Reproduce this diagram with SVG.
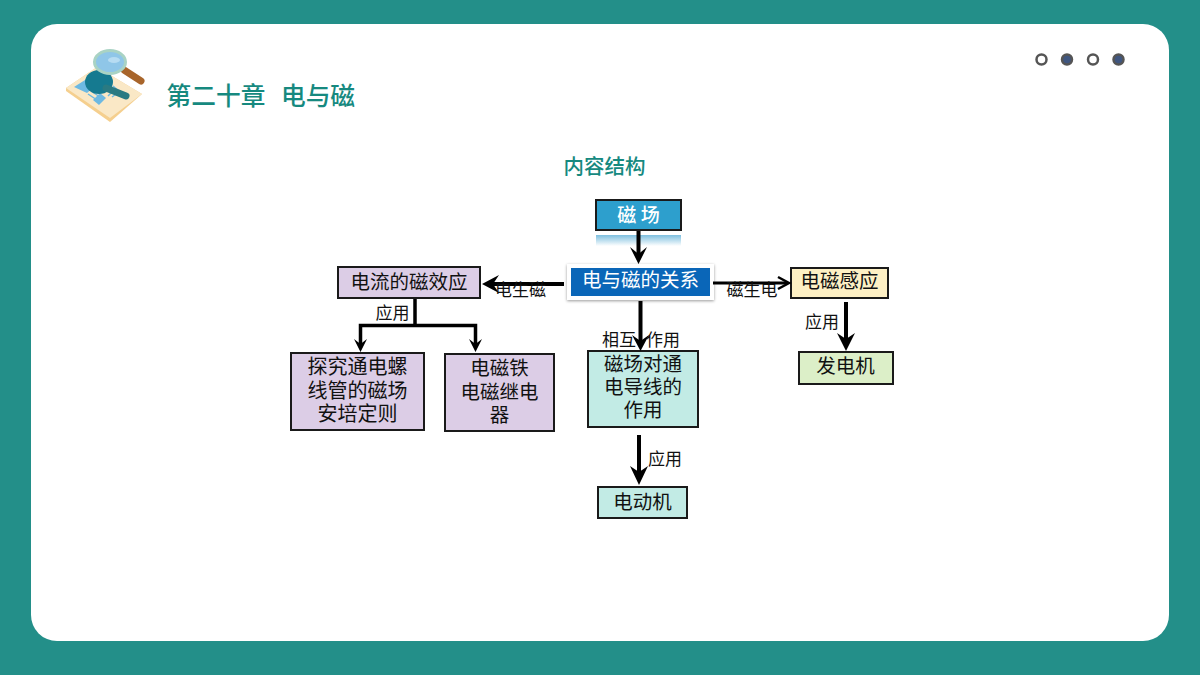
<svg xmlns="http://www.w3.org/2000/svg" width="1200" height="675" viewBox="0 0 1200 675">
<defs>
<style>
text{font-family:"Noto Sans CJK SC","Liberation Sans",sans-serif;text-anchor:middle}
.box{stroke:#1a1a1a;stroke-width:2}
.t{font-size:19.500px;fill:#111}
.w{font-size:20px;fill:#111}
.l{font-size:17px;fill:#111}
.h{font-weight:500;fill:#16897f}
.c{fill:none;stroke:#000;stroke-linecap:butt}
.dot{stroke:#555;stroke-width:2.500}
</style>
<linearGradient id="refl" x1="0" y1="0" x2="0" y2="1"><stop offset="0" stop-color="#7dbfdf"/><stop offset="1" stop-color="#fff"/></linearGradient>
<filter id="sh" x="-10%" y="-20%" width="120%" height="140%"><feDropShadow dx="0" dy="1" stdDeviation="1.500" flood-color="#000" flood-opacity=".4"/></filter>
</defs>
<rect width="1200" height="675" fill="#238f89"/>
<rect x="31" y="24" width="1138" height="617" rx="26" fill="#fff"/>
<g id="icon">
<path d="M66 88L97 67L142 94L110 122L66 91Z" fill="#f5cf8e"/>
<path d="M66 88L97 67L142 94L110 118Z" fill="#fae8c6"/>
<path d="M74 87L85 80L93 88L87 93Z" fill="#6db9e2"/>
<path d="M93 100L100 93L106 98L99 105Z" fill="#6db9e2"/>
<path d="M88 94L97 100M91 91L100 97M108 96L114 90M112 97L119 92M113 86L120 92" stroke="#6db9e2" stroke-width="1.500" fill="none"/>
<ellipse cx="99" cy="82" rx="14" ry="12" fill="#157a90"/>
<path d="M106 88L126 96" stroke="#2a7a82" stroke-width="7" stroke-linecap="round"/>
<path d="M124 70L141 81" stroke="#a8652b" stroke-width="7" stroke-linecap="round"/>
<ellipse cx="110" cy="62" rx="15.500" ry="11.500" fill="#8fc6e8" stroke="#a9d3c4" stroke-width="3"/>
<ellipse cx="114" cy="60" rx="6" ry="3" fill="#b7dcf2"/>
</g>
<g id="title">
<text class="h" x="216" y="105" font-size="24.700">第二十章</text>
<text class="h" x="318" y="105" font-size="24.700">电与磁</text>
</g>
<g id="dots">
<circle class="dot" cx="1041.500" cy="59.500" r="5" fill="#fff"/>
<circle class="dot" cx="1067" cy="59.500" r="5" fill="#3f5680"/>
<circle class="dot" cx="1093" cy="59.500" r="5" fill="#fff"/>
<circle class="dot" cx="1118.500" cy="59.500" r="5" fill="#3f5680"/>
</g>
<text class="h" x="604.500" y="174" font-size="20.500" id="subtitle">内容结构</text>
<g id="n-cichang">
<rect x="596" y="200" width="85" height="30" fill="#2d9fcd" class="box"/>
<rect x="596" y="235" width="85" height="11" fill="url(#refl)"/>
<text x="638.500" y="222" font-size="19" fill="#fff" font-weight="500">磁 场</text>
</g>
<g id="n-guanxi">
<rect x="567" y="264" width="147" height="36" fill="#fff" filter="url(#sh)"/>
<rect x="571" y="268" width="139" height="28" fill="#0a66b8"/>
<text x="640.500" y="287" font-size="19.500" fill="#fff">电与磁的关系</text>
</g>
<g id="n-xiaoying">
<rect x="338" y="267" width="142" height="31" fill="#dccde6" class="box"/>
<text class="t" x="409" y="289">电流的磁效应</text>
</g>
<g id="n-ganying">
<rect x="791" y="268" width="97" height="30" fill="#fdf0c4" class="box"/>
<text class="t" x="839.500" y="288">电磁感应</text>
</g>
<g id="n-luoxian">
<rect x="291" y="353" width="133" height="77" fill="#dccde6" class="box"/>
<text class="w" x="357.500" y="374">探究通电螺</text>
<text class="w" x="357.500" y="398">线管的磁场</text>
<text class="w" x="357.500" y="421">安培定则</text>
</g>
<g id="n-citie">
<rect x="445" y="354" width="109" height="77" fill="#dccde6" class="box"/>
<text class="t" x="499.500" y="375">电磁铁</text>
<text class="t" x="499.500" y="399">电磁继电</text>
<text class="t" x="499.500" y="422">器</text>
</g>
<g id="n-daoxian">
<rect x="588" y="351" width="110" height="76" fill="#c2ebe5" class="box"/>
<text class="t" x="643" y="371">磁场对通</text>
<text class="t" x="643" y="394">电导线的</text>
<text class="t" x="643" y="417">作用</text>
</g>
<g id="n-diandongji">
<rect x="598" y="487" width="89" height="31" fill="#c2ebe5" class="box"/>
<text class="t" x="642.500" y="509">电动机</text>
</g>
<g id="n-fadianji">
<rect x="799" y="352" width="94" height="32" fill="#dcefc8" class="box"/>
<text class="t" x="845.500" y="373">发电机</text>
</g>
<g id="connectors">
<path class="c" stroke-width="4" d="M638.500 231V256"/>
<path d="M630 247L638.500 264L647 247L638.500 254Z"/>
<path class="c" stroke-width="4" d="M564 284H490"/>
<path d="M482 284L499 275L493 284L499 293Z"/>
<path class="c" stroke-width="3" d="M713 283H787"/>
<path class="c" stroke-width="2.500" d="M778 277L789 283L778 289"/>
<path class="c" stroke-width="4" d="M640.500 301V342"/>
<path d="M632 335L640.500 351L649 335L640.500 341Z"/>
<path class="c" stroke-width="3.500" d="M415 299V325.500M360.500 345V325.500H475.500V345"/>
<path d="M354 339L360.500 352L367 339L360.500 344ZM469 339L475.500 352L482 339L475.500 344Z"/>
<path class="c" stroke-width="4" d="M639 435V476"/>
<path d="M630 466L639 485L648 466L639 472Z"/>
<path class="c" stroke-width="4" d="M846 302V342"/>
<path d="M837 333L846 351L855 333L846 339Z"/>
</g>
<g id="labels">
<text class="l" x="520.500" y="296">电生磁</text>
<text class="l" x="752" y="296">磁生电</text>
<text class="l" x="641" y="346" word-spacing="6">相互 作用</text>
<text class="l" x="392.500" y="319">应用</text>
<text class="l" x="822" y="328">应用</text>
<text class="l" x="665" y="465">应用</text>
</g>
</svg>
